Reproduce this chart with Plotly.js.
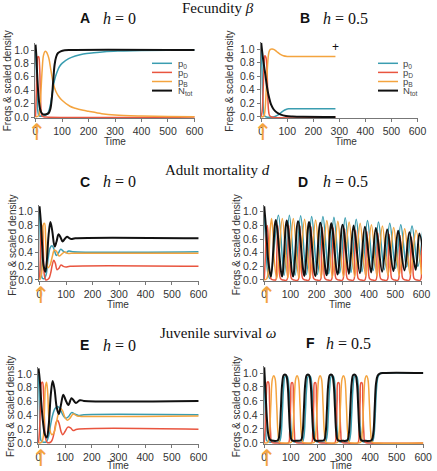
<!DOCTYPE html>
<html><head><meta charset="utf-8">
<script src="https://cdn.plot.ly/plotly-3.0.1.min.js"></script>
<style>html,body{margin:0;padding:0;background:#fff}#chart{width:437px;height:471px}</style>
</head><body><div id="chart"></div>
<script>
// ---------- labels ----------
const seriesNames = ['p<sub>0</sub>', 'p<sub>D</sub>', 'p<sub>B</sub>', 'N<sub>tot</sub>'];
const seriesColors = ['#3a9db0', '#e9553f', '#f4a43f', '#111111'];
const panelLetters = ['A', 'B', 'C', 'D', 'E', 'F'];
const panelH = ['0', '0.5', '0', '0.5', '0', '0.5'];
const sectionTitles = ['Fecundity <i>β</i>', 'Adult mortality <i>d</i>', 'Juvenile survival <i>ω</i>'];
const timeTicks = [0, 100, 200, 300, 400, 500, 600];
const freqTicks = [0, 0.2, 0.4, 0.6, 0.8, 1.0];
const xTitle = 'Time';
const yTitle = 'Freqs &amp; scaled density';

// ---------- A: fecundity, h = 0 ----------
const aP0T = [0,3,6,9,13,25,40,48,55,62,68,75,82,90,100,125,150,180,220,260,320,400,600];
const aP0  = [1.0,0.72,0.32,0.08,0.02,0.01,0.03,0.07,0.16,0.32,0.48,0.6,0.68,0.75,0.8,0.87,0.91,0.94,0.96,0.975,0.985,0.993,1.0];
const aPDT = [0,3,6,9,12,15,18,21,25,40,600];
const aPD  = [0,0.35,0.8,0.9,0.9,0.78,0.4,0.1,0.01,0,0];
const aPBT = [0,12,16,20,25,30,36,41,50,58,67,77,87,100,130,150,180,200,250,300,400,500,600];
const aPB  = [0,0.02,0.12,0.35,0.7,0.92,0.98,0.97,0.88,0.7,0.5,0.38,0.31,0.25,0.16,0.13,0.1,0.085,0.05,0.03,0.015,0.008,0.005];
const aNT  = [0,3,6,10,15,20,28,40,50,56,62,67,72,78,85,95,110,130,600];
const aN   = [1.08,0.92,0.65,0.38,0.17,0.08,0.04,0.04,0.06,0.12,0.3,0.55,0.78,0.9,0.955,0.98,0.995,1.0,1.0];

// ---------- B: fecundity, h = 0.5 ----------
const bP0T = [0,3,6,9,12,20,45,55,65,75,85,95,105,120,140,285];
const bP0  = [1.0,0.7,0.3,0.08,0.02,0,0,0.01,0.03,0.06,0.09,0.11,0.12,0.12,0.12,0.12];
const bPDT = [0,4,8,11,14,18,22,25,28,32,40,285];
const bPD  = [0,0.1,0.45,0.8,0.9,0.88,0.7,0.35,0.1,0.02,0,0];
const bPBT = [0,10,14,18,22,26,30,35,42,50,60,72,85,100,120,285];
const bPB  = [0,0.01,0.08,0.3,0.6,0.85,0.96,0.995,1.0,0.99,0.96,0.925,0.9,0.89,0.888,0.888];
const bNT  = [0,4,8,12,16,20,25,30,38,48,60,75,95,120,160,285];
const bN   = [1.09,0.95,0.83,0.72,0.62,0.5,0.38,0.29,0.18,0.11,0.065,0.035,0.015,0.007,0.002,0];
const bExtinctT = [285];
const bExtinctY = [1.03];

// ---------- C: adult mortality, h = 0 ----------
const cP0T = [0,3,6,10,18,25,32,40,47,55,63,72,80,90,100,110,125,600];
const cP0  = [1.0,0.6,0.2,0.03,0.02,0.08,0.3,0.47,0.5,0.45,0.36,0.4,0.45,0.42,0.4,0.425,0.415,0.415];
const cPDT = [0,3,6,9,12,15,18,24,35,42,48,54,60,66,73,81,90,100,115,600];
const cPD  = [0,0.3,0.75,0.8,0.72,0.35,0.08,0,0.02,0.1,0.22,0.29,0.24,0.15,0.17,0.22,0.2,0.19,0.2,0.2];
const cPBT = [0,8,12,15,19,23,27,32,40,48,56,64,74,84,95,105,120,600];
const cPB  = [0,0.1,0.55,0.82,0.83,0.6,0.3,0.18,0.22,0.34,0.44,0.42,0.35,0.38,0.41,0.39,0.39,0.39];
const cNT  = [0,5,10,15,22,28,34,41,48,57,64,72,80,87,95,104,112,120,135,600];
const cN   = [1.08,0.85,0.5,0.22,0.12,0.3,0.65,0.85,0.72,0.49,0.56,0.67,0.62,0.565,0.6,0.635,0.615,0.6,0.61,0.61];

// ---------- D: adult mortality, h = 0.5 ----------
const dP0T = [0,6,14,22,54,76,96,118,139,161,181,203,224,246,266,288,309,331,351,373,394,416,436,458,479,501,521,543,564,586,606];
const dP0  = [1.0,0.55,0.1,0.02,0.95,0.07,0.95,0.07,0.94,0.08,0.93,0.08,0.93,0.09,0.92,0.1,0.91,0.11,0.89,0.12,0.87,0.14,0.85,0.15,0.83,0.17,0.81,0.19,0.79,0.2,0.77];
const dPDT = [0,4,8,12,16,21,27,38, 44,48,52,57,62,72, 86,90,94,99,104,114, 129,133,137,142,147,157, 171,175,179,184,189,199, 214,218,222,227,232,242, 256,260,264,269,274,284, 299,303,307,312,317,327, 341,345,349,354,359,369, 384,388,392,397,402,412, 426,430,434,439,444,454, 469,473,477,482,487,497, 511,515,519,524,529,539, 554,558,562,567,572,582, 596,600,604,609];
const dPD  = [0,0.3,0.7,0.8,0.55,0.12,0.01,0, 0,0.36,0.8,0.32,0.02,0, 0,0.36,0.8,0.32,0.02,0, 0,0.36,0.79,0.32,0.02,0, 0,0.35,0.78,0.31,0.02,0, 0,0.35,0.77,0.31,0.02,0, 0,0.34,0.76,0.3,0.02,0, 0,0.34,0.75,0.3,0.02,0, 0,0.33,0.73,0.29,0.02,0, 0,0.32,0.71,0.28,0.02,0, 0,0.31,0.69,0.28,0.02,0, 0,0.3,0.67,0.27,0.02,0, 0,0.29,0.65,0.26,0.02,0, 0,0.28,0.63,0.25,0.02,0, 0,0.36,0.62,0.25];
const dPBT = [0,10,18,23,28,33,38,48,69,90,111,132,154,175,196,217,239,260,281,302,324,345,366,387,409,430,451,472,494,515,536,557,579,600];
const dPB  = [0,0.02,0.35,0.75,0.9,0.72,0.3,0.02,0.9,0.03,0.9,0.03,0.89,0.03,0.88,0.04,0.87,0.04,0.86,0.05,0.85,0.05,0.83,0.06,0.81,0.06,0.79,0.07,0.77,0.07,0.75,0.08,0.73,0.08];
const dNT  = [0,8,16,26,44,68,86,110,129,153,171,195,214,238,256,280,299,323,341,365,384,408,426,450,469,493,511,535,554,578,592,614];
const dN   = [1.08,0.7,0.25,0.05,0.88,0.05,0.87,0.05,0.86,0.06,0.85,0.06,0.84,0.07,0.83,0.08,0.81,0.09,0.8,0.1,0.78,0.11,0.76,0.12,0.74,0.13,0.72,0.14,0.7,0.15,0.68,0.16];

// ---------- E: juvenile survival, h = 0 ----------
const eP0T = [0,3,6,10,20,30,38,46,54,62,72,82,92,102,112,124,136,150,170,600];
const eP0  = [1.0,0.6,0.2,0.03,0.01,0.02,0.1,0.28,0.42,0.5,0.53,0.48,0.4,0.36,0.38,0.44,0.42,0.4,0.41,0.41];
const ePDT = [0,4,8,11,15,19,22,26,32,45,52,60,66,72,78,85,91,100,110,120,130,145,600];
const ePD  = [0,0.2,0.65,0.87,0.88,0.7,0.35,0.08,0.01,0.01,0.05,0.18,0.3,0.33,0.27,0.16,0.12,0.17,0.23,0.22,0.18,0.2,0.2];
const ePBT = [0,12,18,22,26,30,34,38,42,50,58,66,74,82,90,98,108,118,130,145,160,600];
const ePB  = [0,0.01,0.1,0.45,0.82,0.88,0.75,0.4,0.2,0.12,0.15,0.28,0.42,0.5,0.47,0.38,0.33,0.36,0.42,0.39,0.385,0.39];
const eNT  = [0,5,10,17,24,31,38,46,53,60,68,76,84,93,102,112,124,140,155,170,600];
const eN   = [1.08,0.9,0.6,0.3,0.12,0.08,0.25,0.7,0.9,0.78,0.52,0.42,0.55,0.7,0.62,0.55,0.65,0.58,0.62,0.61,0.61];

// ---------- F: juvenile survival, h = 0.5 ----------
const fP0T = [0,3,6,10,25,40, 57,63,68,73,79,87,93,98,103,109,127, 144,150,155,160,166,174,180,185,190,196,214, 231,237,242,247,253,261,267,272,277,283,301, 319,325,330,335,341,349,355,360,365,371,389, 408,414,419,424,430,438,452,600];
const fP0  = [1.0,0.6,0.2,0.03,0.01,0.01, 0.02,0.1,0.4,0.78,0.95,0.95,0.8,0.45,0.12,0.02,0.01, 0.02,0.1,0.4,0.78,0.95,0.95,0.8,0.45,0.12,0.02,0.01, 0.02,0.1,0.4,0.78,0.95,0.95,0.8,0.45,0.12,0.02,0.01, 0.02,0.1,0.4,0.78,0.95,0.95,0.8,0.45,0.12,0.02,0.01, 0.02,0.1,0.4,0.78,0.95,0.99,1.0,1.0];
const fPDT = [0,4,8,12,16,20,24,29,50, 91,96,100,103,107,110,114,119,140, 178,183,187,190,194,197,201,206,227, 266,271,275,278,282,285,289,294,315, 353,358,362,365,369,372,376,381,400, 600];
const fPD  = [0,0.25,0.7,0.87,0.87,0.6,0.15,0.01,0, 0,0.15,0.6,0.86,0.86,0.6,0.15,0.01,0, 0,0.15,0.6,0.86,0.86,0.6,0.15,0.01,0, 0,0.15,0.6,0.86,0.86,0.6,0.15,0.01,0, 0,0.15,0.6,0.86,0.86,0.6,0.15,0.01,0, 0];
const fPBT = [0, 14,20,25,31,36,41,47,52,58,80, 102,108,113,119,124,129,135,140,146,167, 189,195,200,206,211,216,222,227,233,255, 277,283,288,294,299,304,310,315,321,342, 364,370,375,381,386,391,397,402,408,430, 600];
const fPB  = [0, 0.01,0.15,0.55,0.92,0.96,0.92,0.55,0.15,0.01,0, 0.01,0.15,0.55,0.92,0.96,0.92,0.55,0.15,0.01,0, 0.01,0.15,0.55,0.92,0.96,0.92,0.55,0.15,0.01,0, 0.01,0.15,0.55,0.92,0.96,0.92,0.55,0.15,0.01,0, 0.01,0.15,0.55,0.92,0.96,0.92,0.55,0.15,0.01,0, 0];
const fNT  = [0,5,10,15,21,35, 52,58,63,68,74,82,88,93,98,104,122, 139,145,150,155,161,169,175,180,185,191,209, 226,232,237,242,248,256,262,267,272,278,296, 314,320,325,330,336,344,350,355,360,366,384, 405,412,417,422,428,436,450,600];
const fN   = [1.08,0.72,0.35,0.13,0.05,0.03, 0.04,0.15,0.5,0.85,0.97,0.97,0.85,0.5,0.15,0.04,0.03, 0.04,0.15,0.5,0.85,0.97,0.97,0.85,0.5,0.15,0.04,0.03, 0.04,0.15,0.5,0.85,0.97,0.97,0.85,0.5,0.15,0.04,0.03, 0.04,0.15,0.5,0.85,0.97,0.97,0.85,0.5,0.15,0.04,0.03, 0.04,0.15,0.5,0.85,0.96,0.99,1.0,1.0];

// start marker (orange arrow) time per panel
const arrowT = [5, 5, 5, 9, 6, 9];

// ---------- assembly ----------
const W = 437, H = 471;
const px = v => v / W, py = v => 1 - v / H;
const SANS = 'Liberation Sans, Arial, sans-serif';
const SERIF = 'Liberation Serif, Times New Roman, serif';

const panels = [
  {series: [[aP0T, aP0], [aPDT, aPD], [aPBT, aPB], [aNT, aN]], x: [35, 195], y: [118, 43.3], base: 117,
   letter: [84.7, 18.3], h: [119, 18.3], yt: [8.3, 81], xt: [115, 141.5], legend: [152, 176]},
  {series: [[bP0T, bP0], [bPDT, bPD], [bPBT, bPB], [bNT, bN]], x: [260.7, 418], y: [118, 42.2], base: 117,
   letter: [304.7, 18.3], h: [345, 18.3], yt: [229.7, 81], xt: [346, 141.5], legend: [378, 401]},
  {series: [[cP0T, cP0], [cPDT, cPD], [cPBT, cPB], [cNT, cN]], x: [39, 199], y: [281, 204.9], base: 280,
   letter: [84.7, 181.7], h: [119, 181.7], yt: [11.7, 245], xt: [118, 304.5]},
  {series: [[dP0T, dP0], [dPDT, dPD], [dPBT, dPB], [dNT, dN]], x: [263.7, 422], y: [281, 204.9], base: 280,
   letter: [303.3, 181.7], h: [345, 181.7], yt: [236.3, 245], xt: [339.7, 304.5]},
  {series: [[eP0T, eP0], [ePDT, ePD], [ePBT, ePB], [eNT, eN]], x: [38, 199], y: [444, 367.1], base: 443,
   letter: [84, 345], h: [119, 345], yt: [10, 407], xt: [118, 465.5]},
  {series: [[fP0T, fP0], [fPDT, fPD], [fPBT, fPB], [fNT, fN]], x: [263.7, 423.7], y: [444, 366], base: 443,
   letter: [310, 343.3], h: [348, 343.3], yt: [236.3, 407], xt: [341, 465.5]}
];

const traces = [];
const layout = {
  width: W, height: H, margin: {l: 0, r: 0, t: 0, b: 0},
  paper_bgcolor: '#fff', plot_bgcolor: '#fff', showlegend: false,
  annotations: [], shapes: []
};

panels.forEach((p, i) => {
  const sfx = i === 0 ? '' : String(i + 1);
  p.series.forEach((s, j) => {
    traces.push({
      x: s[0], y: s[1], xaxis: 'x' + sfx, yaxis: 'y' + sfx, type: 'scatter', mode: 'lines',
      name: seriesNames[j], hoverinfo: 'skip', showlegend: false,
      line: {color: seriesColors[j], width: j === 3 ? 2 : 1.5, shape: 'spline', smoothing: 1}
    });
  });
  const axCommon = {
    showline: true, linecolor: '#777', linewidth: 1, ticks: 'outside', ticklen: 3, tickcolor: '#777',
    showgrid: false, zeroline: false, tickfont: {family: SANS, size: 10.5, color: '#333'}, fixedrange: true
  };
  layout['xaxis' + sfx] = Object.assign({}, axCommon, {
    domain: [px(p.x[0]), px(p.x[1])], range: [-2, 602], anchor: 'y' + sfx,
    tickvals: timeTicks, ticktext: timeTicks.map(String)
  });
  layout['yaxis' + sfx] = Object.assign({}, axCommon, {
    domain: [py(p.y[0]), py(p.y[1])], range: [-0.015, 1.1], anchor: 'x' + sfx,
    tickvals: freqTicks, ticktext: freqTicks.map(v => v.toFixed(1))
  });
  const A = layout.annotations;
  A.push({xref: 'paper', yref: 'paper', x: px(p.letter[0]), y: py(p.letter[1]), text: '<b>' + panelLetters[i] + '</b>',
          showarrow: false, xanchor: 'center', yanchor: 'middle', font: {family: SANS, size: 14, color: '#111'}});
  A.push({xref: 'paper', yref: 'paper', x: px(p.h[0]), y: py(p.h[1]), text: '<i>h</i> = ' + panelH[i],
          showarrow: false, xanchor: 'center', yanchor: 'middle', font: {family: SERIF, size: 16, color: '#111'}});
  A.push({xref: 'paper', yref: 'paper', x: px(p.yt[0]), y: py(p.yt[1]), text: yTitle, textangle: -90,
          showarrow: false, xanchor: 'center', yanchor: 'middle', font: {family: SANS, size: 10, color: '#333'}});
  A.push({xref: 'paper', yref: 'paper', x: px(p.xt[0]), y: py(p.xt[1]), text: xTitle,
          showarrow: false, xanchor: 'center', yanchor: 'middle', font: {family: SANS, size: 10, color: '#333'}});
  // orange start arrow below the time axis (x in data units, y in paper units)
  A.push({xref: 'x' + sfx, yref: 'paper', x: arrowT[i], y: py(p.base), text: '↑',
          showarrow: false, xanchor: 'center', yanchor: 'top',
          font: {family: 'DejaVu Sans, sans-serif', size: 23, color: '#f4a43f'}});
  if (p.legend) {
    const rows = [63.3, 72.4, 81.5, 90.6];
    seriesNames.forEach((nm, j) => {
      layout.shapes.push({type: 'line', xref: 'paper', yref: 'paper',
        x0: px(p.legend[0]), x1: px(p.legend[0] + 20), y0: py(rows[j]), y1: py(rows[j]),
        line: {color: seriesColors[j], width: j === 3 ? 2 : 1.5}});
      A.push({xref: 'paper', yref: 'paper', x: px(p.legend[1]), y: py(rows[j] + 0.8), text: nm,
              showarrow: false, xanchor: 'left', yanchor: 'middle', font: {family: SANS, size: 9.5, color: '#444'}});
    });
  }
});

// extinction mark in panel B
layout.annotations.push({xref: 'x2', yref: 'y2', x: bExtinctT[0], y: bExtinctY[0], text: '+', showarrow: false,
  xanchor: 'center', yanchor: 'middle', font: {family: SANS, size: 12, color: '#111'}});

// section titles
const sectionPos = [[217.5, 8.5], [217, 170], [218, 333]];
sectionTitles.forEach((t, k) => {
  layout.annotations.push({xref: 'paper', yref: 'paper', x: px(sectionPos[k][0]), y: py(sectionPos[k][1]), text: t,
    showarrow: false, xanchor: 'center', yanchor: 'middle', font: {family: SERIF, size: 15, color: '#111'}});
});

Plotly.newPlot('chart', traces, layout, {displayModeBar: false, staticPlot: true});
</script></body></html>
